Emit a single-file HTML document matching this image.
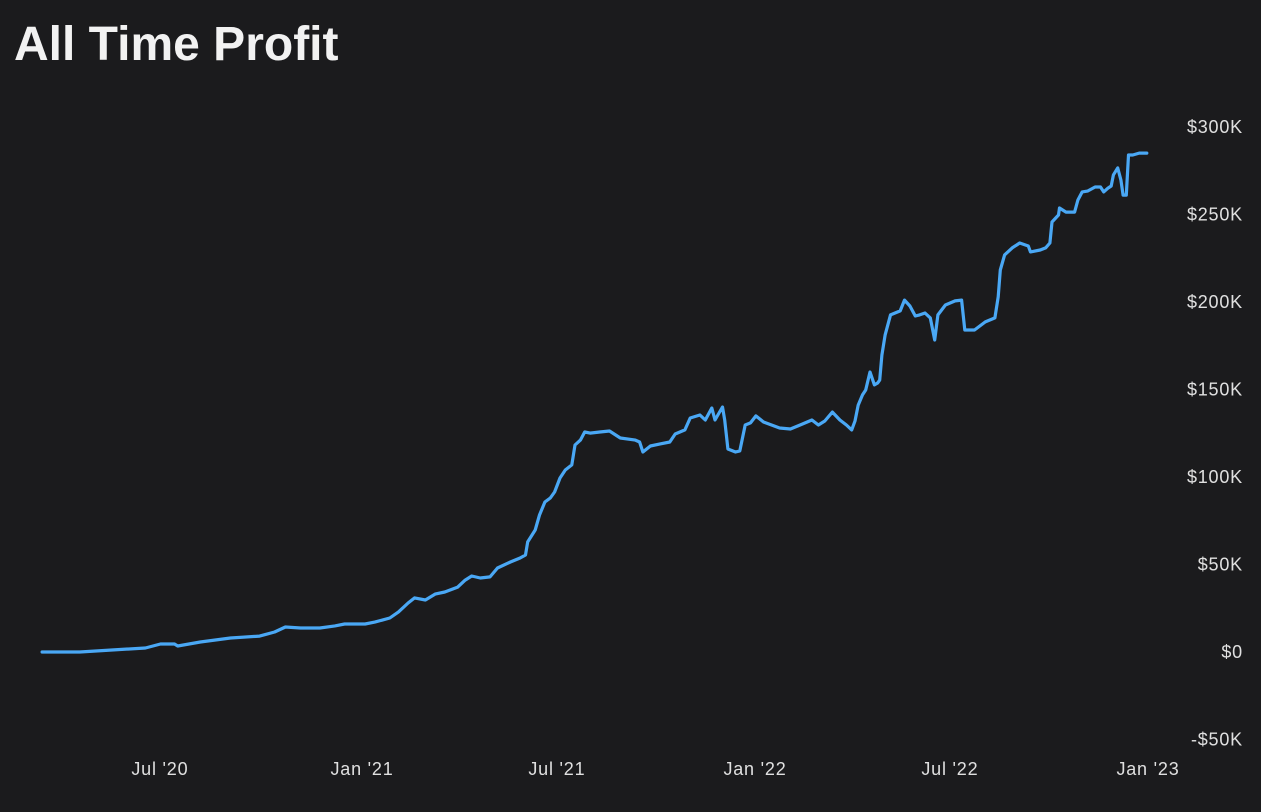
<!DOCTYPE html>
<html><head><meta charset="utf-8">
<style>
html,body{margin:0;padding:0;background:#1b1b1d;}
body{width:1261px;height:812px;overflow:hidden;position:relative;font-family:"Liberation Sans",sans-serif;}
#title{position:absolute;left:14px;top:17px;font-size:48px;font-weight:bold;color:#f2f2f2;letter-spacing:0px;margin:0;}
svg{position:absolute;left:0;top:0;}
</style></head>
<body>
<h1 id="title">All Time Profit</h1>
<svg id="chart" width="1261" height="812"></svg>
<script>
// days since 2020-01-01
const days=[67,102,130,163,177,190,193,214,242,269,283,293,307,325,339,348,367,376,390,398,407,413,423,432,441,453,460,466,474,483,490,502,511,516,518,525,529,534,539,543,548,553,559,562,567,571,576,585,594,604,618,622,625,632,641,650,655,664,669,678,683,689,692,699,701,704,711,715,720,725,730,737,752,762,771,782,788,794,801,808,814,819,822,825,829,832,836,840,843,845,847,850,855,864,868,873,878,882,887,892,896,899,906,915,921,924,933,943,952,955,957,961,968,975,983,985,994,999,1003,1005,1011,1012,1018,1026,1029,1033,1038,1045,1050,1053,1057,1060,1062,1066,1069,1071,1074,1076,1080,1086,1090,1093];
// profit in $K
const profit=[0,0,1.1,2.3,4.6,4.6,3.4,5.7,8,9.1,11.4,14.3,13.7,13.7,14.9,16,16,17.1,19.4,22.9,28,30.9,29.7,33.1,34.3,37.1,41.1,43.4,42.3,42.9,48,51.4,53.7,55.4,62.9,69.7,78.3,85.7,88,91.4,99.4,104,106.9,118.3,121.1,125.7,125.1,125.7,126.3,122.3,121.1,120,114.3,117.7,118.9,120,124.6,126.9,133.7,135.4,132.6,139.4,132.6,140,132.6,116,114.3,114.9,129.7,130.9,134.9,131.4,128,127.4,129.7,132.6,129.7,132,137.1,132.6,129.7,126.9,132,141.1,146.9,149.7,160,152.6,153.7,155.4,169.7,181.1,192.6,194.9,201.1,197.7,192,192.6,193.7,190.9,178.3,192.6,198.3,200.6,201.1,184,184,188.6,190.9,202.9,218.3,226.9,230.9,233.7,232,228.6,229.7,230.9,233.7,245.7,249.7,253.7,251.4,251.4,258.3,262.9,263.4,265.7,265.7,262.9,265.1,266.3,272.6,276.6,269.7,261.1,261.1,284,284,285.1,285.1,285.1];
const yTicks=[300,250,200,150,100,50,0,-50];
const yTickLabels=["$300K","$250K","$200K","$150K","$100K","$50K","$0","-$50K"];
const xTickDays=[182,366,547,731,912,1096];
const xTickLabels=["Jul '20","Jan '21","Jul '21","Jan '22","Jul '22","Jan '23"];

const NS="http://www.w3.org/2000/svg";
const svg=document.getElementById('chart');
const xs=d=>364+(d-366)*1.0767;
const ys=v=>652-v*1.75;

yTicks.forEach((v,i)=>{
  const t=document.createElementNS(NS,'text');
  
  
  t.setAttribute('x',1243);t.setAttribute('y',ys(v)+6);
  t.setAttribute('text-anchor','end');t.setAttribute('fill','#e0e0e0');
  t.setAttribute('font-size','18');t.setAttribute('letter-spacing','0.8');t.setAttribute('font-family','Liberation Sans, sans-serif');
  t.textContent=yTickLabels[i];svg.appendChild(t);
});
xTickDays.forEach((d,i)=>{
  const t=document.createElementNS(NS,'text');
  
  
  t.setAttribute('x',xs(d)-(i==0?6:2));t.setAttribute('y',775);
  t.setAttribute('text-anchor','middle');t.setAttribute('fill','#e0e0e0');
  t.setAttribute('font-size','18');t.setAttribute('letter-spacing','0.8');t.setAttribute('font-family','Liberation Sans, sans-serif');
  t.textContent=xTickLabels[i];svg.appendChild(t);
});
const p=document.createElementNS(NS,'polyline');


p.setAttribute('points',days.map((d,i)=>xs(d).toFixed(1)+','+ys(profit[i]).toFixed(1)).join(' '));
p.setAttribute('fill','none');p.setAttribute('stroke','#4aa8f5');
p.setAttribute('stroke-width','3.2');p.setAttribute('stroke-linejoin','round');p.setAttribute('stroke-linecap','round');
svg.appendChild(p);
</script>
</body></html>
